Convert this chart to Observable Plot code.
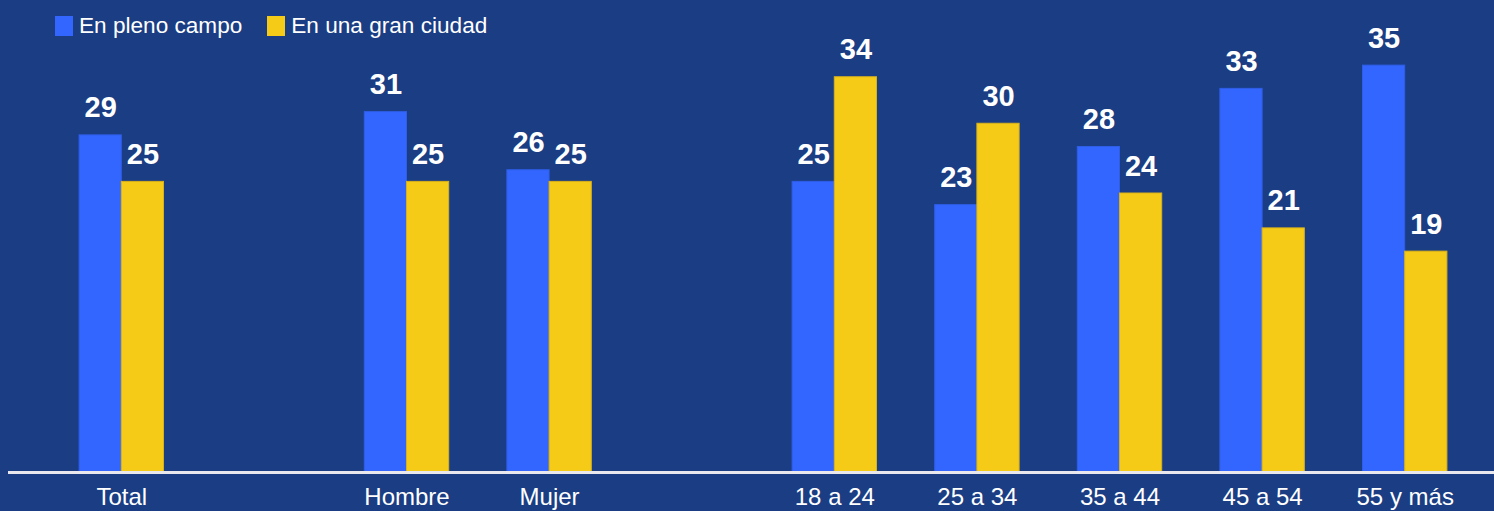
<!DOCTYPE html>
<html>
<head>
<meta charset="utf-8">
<script src="https://cdn.jsdelivr.net/npm/d3@7"></script>
<script src="https://cdn.jsdelivr.net/npm/@observablehq/plot@0.6"></script>
<style>
  html, body { margin: 0; padding: 0; background: #1a3d84; }
  #wrap { position: relative; width: 1494px; height: 511px; overflow: hidden; }
  #legend { position: absolute; top: 13px; left: 55px; display: flex; align-items: center;
    font-family: "Liberation Sans", Arial, sans-serif; font-size: 22.6px; color: #fff; z-index: 2; }
  .item { display: flex; align-items: center; margin-right: 25px; }
  .sw { width: 18px; height: 20px; margin-right: 6px; }
</style>
</head>
<body>
<div id="wrap"><div id="legend"></div><div id="chart"></div></div>
<script>
// ---- data ----
const groups = ["Total", "Hombre", "Mujer", "18 a 24", "25 a 34", "35 a 44", "45 a 54", "55 y más"];
const slots = ["Total", " ", "Hombre", "Mujer", "  ", "18 a 24", "25 a 34", "35 a 44", "45 a 54", "55 y más"];
const series = ["En pleno campo", "En una gran ciudad"];
const campo = [29, 31, 26, 25, 23, 28, 33, 35];
const ciudad = [25, 25, 25, 34, 30, 24, 21, 19];
const colors = ["#3366ff", "#f6cb17"];
const strokes = ["#2f5ee6", "#d9b21a"];

const rowsCampo = groups.map((g, i) => ({group: g, series: series[0], value: campo[i]}));
const rowsCiudad = groups.map((g, i) => ({group: g, series: series[1], value: ciudad[i]}));

// legend
const legend = document.getElementById("legend");
series.forEach((s, i) => {
  const it = document.createElement("div");
  it.className = "item";
  it.innerHTML = `<span class="sw" style="background:${colors[i]}"></span><span>${s}</span>`;
  legend.appendChild(it);
});

const half = 42.2;
const labelFont = {fontSize: 29, fontWeight: "bold", fontFamily: "Liberation Sans, Arial, sans-serif", fill: "#fff", lineAnchor: "bottom", dy: -18};

const chart = Plot.plot({
  width: 1494,
  height: 511,
  marginTop: 7,
  marginBottom: 39,
  marginLeft: 8,
  marginRight: 0,
  style: {background: "#1a3d84", color: "#fff", fontFamily: "'Liberation Sans', Arial, sans-serif", fontSize: "24px", overflow: "visible"},
  x: {domain: slots, round: false, paddingInner: 0.408, paddingOuter: 0.204, insetLeft: 42, insetRight: 18, label: null, tickSize: 0, tickPadding: 15},
  y: {domain: [0, 40], axis: null},
  marks: [
    Plot.barY(rowsCampo, {x: "group", y: "value", fill: colors[0], stroke: strokes[0], strokeWidth: 1, insetRight: half}),
    Plot.barY(rowsCiudad, {x: "group", y: "value", fill: colors[1], stroke: strokes[1], strokeWidth: 1, insetLeft: half}),
    Plot.ruleY([0], {stroke: "#e8e8ee", strokeWidth: 3}),
    Plot.text(rowsCampo, {x: "group", y: "value", text: d => String(d.value), dx: -half / 2, ...labelFont}),
    Plot.text(rowsCiudad, {x: "group", y: "value", text: d => String(d.value), dx: half / 2, ...labelFont})
  ]
});
document.getElementById("chart").appendChild(chart);
</script>
</body>
</html>
